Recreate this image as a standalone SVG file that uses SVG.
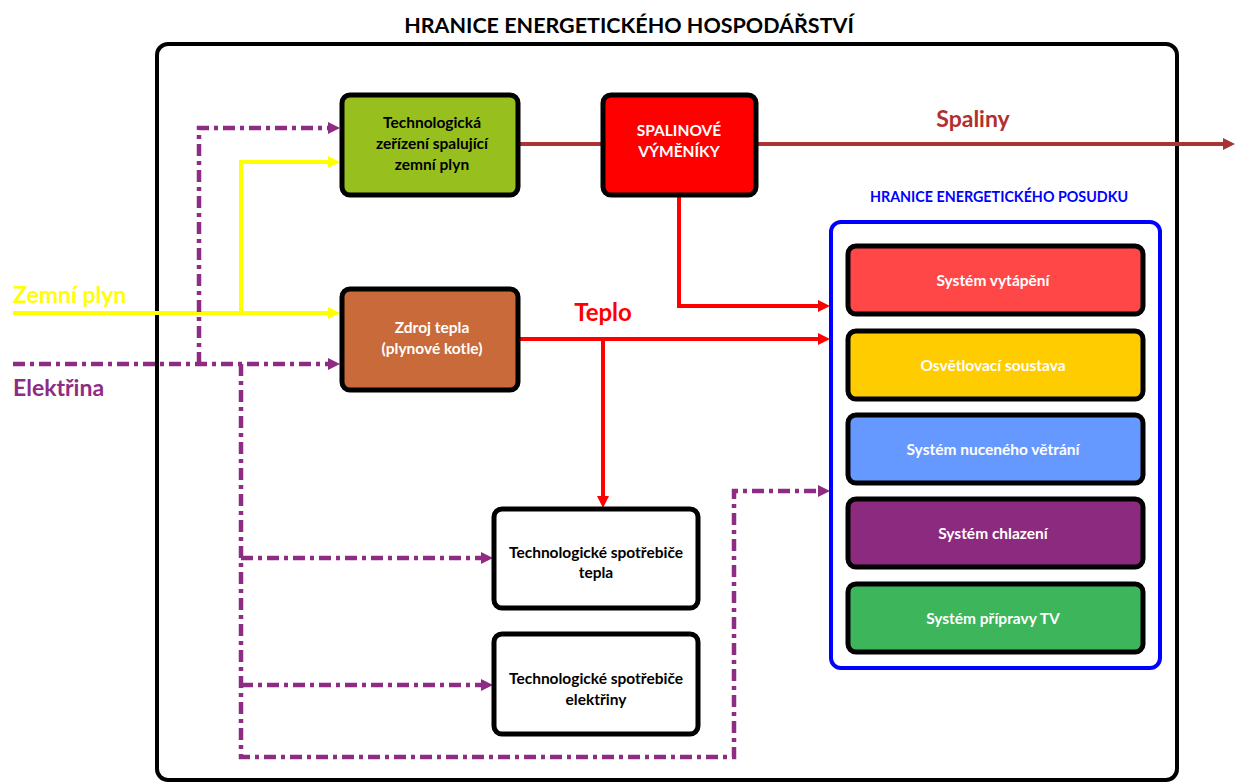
<svg xmlns="http://www.w3.org/2000/svg" width="1235" height="783" viewBox="0 0 1235 783">
  <style>
    text { font-family: Lato, "Liberation Sans", "Noto Sans", sans-serif; font-weight: bold; }
    .box { stroke: #000; stroke-width: 5; }
    .lbl { font-size: 15.5px; text-anchor: middle; }
    .wht { fill: #fff; }
    .blk { fill: #000; }
    .gas { fill: none; stroke: #FFFF00; stroke-width: 4; }
    .ele { fill: none; stroke: #8E2C84; stroke-width: 4.5; stroke-dasharray: 12 5 4 5; }
    .heat { fill: none; stroke: #FF0000; stroke-width: 4; }
    .flue { fill: none; stroke: #A93434; stroke-width: 4; }
  </style>
  <defs>
    <marker id="aY" markerUnits="userSpaceOnUse" markerWidth="12" markerHeight="12" refX="0" refY="6" orient="auto">
      <path d="M0,0 L12,6 L0,12 z" fill="#FFFF00"/>
    </marker>
    <marker id="aP" markerUnits="userSpaceOnUse" markerWidth="12" markerHeight="12" refX="0" refY="6" orient="auto">
      <path d="M0,0 L12,6 L0,12 z" fill="#8E2C84"/>
    </marker>
    <marker id="aR" markerUnits="userSpaceOnUse" markerWidth="12" markerHeight="12" refX="0" refY="6" orient="auto">
      <path d="M0,0 L12,6 L0,12 z" fill="#FF0000"/>
    </marker>
    <marker id="aB" markerUnits="userSpaceOnUse" markerWidth="12" markerHeight="12" refX="0" refY="6" orient="auto">
      <path d="M0,0 L12,6 L0,12 z" fill="#A93434"/>
    </marker>
  </defs>

  <rect width="1235" height="783" fill="#fff"/>

  <!-- energy management boundary -->
  <g id="boundary">
    <rect x="157" y="44" width="1020" height="736" rx="11" fill="none" stroke="#000" stroke-width="4"/>
    <text x="629" y="33" font-size="21.5" text-anchor="middle" fill="#000">HRANICE ENERGETICKÉHO HOSPODÁŘSTVÍ</text>
  </g>

  <!-- flow lines -->
  <g id="connectors">
    <path class="flue" d="M520,144 H1223" marker-end="url(#aB)"/>
    <path class="gas" d="M13,313 H328" marker-end="url(#aY)"/>
    <path class="gas" d="M241,313 V162 H328" marker-end="url(#aY)"/>
    <path class="ele" d="M13,364 H328" marker-end="url(#aP)"/>
    <path class="ele" d="M199,364 V128 H328" marker-end="url(#aP)"/>
    <path class="ele" d="M241,364 V757 H734 V491 H818" marker-end="url(#aP)"/>
    <path class="ele" d="M241,558 H481" marker-end="url(#aP)"/>
    <path class="ele" d="M241,685 H481" marker-end="url(#aP)"/>
    <path class="heat" d="M679,197 V306 H818" marker-end="url(#aR)"/>
    <path class="heat" d="M520,339 H818" marker-end="url(#aR)"/>
    <path class="heat" d="M603,339 V496" marker-end="url(#aR)"/>
  </g>

  <!-- flow labels -->
  <g id="labels">
    <text x="13" y="303" font-size="23" fill="#FFFF00">Zemní plyn</text>
    <text x="13" y="396" font-size="23" fill="#8E2C84">Elektřina</text>
    <text x="973" y="127" font-size="23" text-anchor="middle" fill="#B03030">Spaliny</text>
    <text x="603" y="321" font-size="24" text-anchor="middle" fill="#FF0000">Teplo</text>
  </g>

  <g id="tech-gas">
    <rect class="box" x="342" y="95" width="176" height="100" rx="8" fill="#97BF1D"/>
    <text class="lbl blk" x="432" y="127.5">Technologická</text>
    <text class="lbl blk" x="432" y="148.5">zeřízení spalující</text>
    <text class="lbl blk" x="432" y="169.5">zemní plyn</text>
  </g>

  <g id="flue-exchangers">
    <rect class="box" x="603" y="95" width="153" height="100" rx="8" fill="#FF0000"/>
    <text class="lbl wht" x="679" y="135.5">SPALINOVÉ</text>
    <text class="lbl wht" x="679" y="156.5">VÝMĚNÍKY</text>
  </g>

  <g id="heat-source">
    <rect class="box" x="342" y="289" width="176" height="101" rx="8" fill="#C96A3B"/>
    <text class="lbl wht" x="432" y="333">Zdroj tepla</text>
    <text class="lbl wht" x="432" y="354">(plynové kotle)</text>
  </g>

  <g id="tech-heat-consumers">
    <rect class="box" x="494" y="509" width="204" height="99" rx="8" fill="#fff"/>
    <text class="lbl blk" x="596" y="557.5">Technologické spotřebiče</text>
    <text class="lbl blk" x="596" y="578">tepla</text>
  </g>

  <g id="tech-el-consumers">
    <rect class="box" x="494" y="634" width="204" height="100" rx="8" fill="#fff"/>
    <text class="lbl blk" x="596" y="683.5">Technologické spotřebiče</text>
    <text class="lbl blk" x="596" y="704.5">elektřiny</text>
  </g>

  <!-- energy audit boundary -->
  <g id="audit">
    <text x="999" y="202" font-size="14.3" text-anchor="middle" fill="#0000FF">HRANICE ENERGETICKÉHO POSUDKU</text>
    <rect x="831" y="222" width="329" height="446" rx="10" fill="none" stroke="#0000FF" stroke-width="4"/>
  </g>

  <g id="heating">
    <rect class="box" x="848" y="246" width="295" height="68" rx="8" fill="#FF4747"/>
    <text class="lbl wht" x="993" y="286">Systém vytápění</text>
  </g>
  <g id="lighting">
    <rect class="box" x="848" y="331" width="295" height="68" rx="8" fill="#FFCC00"/>
    <text class="lbl wht" x="993" y="371">Osvětlovací soustava</text>
  </g>
  <g id="ventilation">
    <rect class="box" x="848" y="415" width="295" height="68" rx="8" fill="#6699FF"/>
    <text class="lbl wht" x="993" y="455">Systém nuceného větrání</text>
  </g>
  <g id="cooling">
    <rect class="box" x="848" y="499" width="295" height="68" rx="8" fill="#8B2A7E"/>
    <text class="lbl wht" x="993" y="539">Systém chlazení</text>
  </g>
  <g id="hot-water">
    <rect class="box" x="848" y="584" width="295" height="68" rx="8" fill="#3DB55B"/>
    <text class="lbl wht" x="993" y="624">Systém přípravy TV</text>
  </g>
</svg>
